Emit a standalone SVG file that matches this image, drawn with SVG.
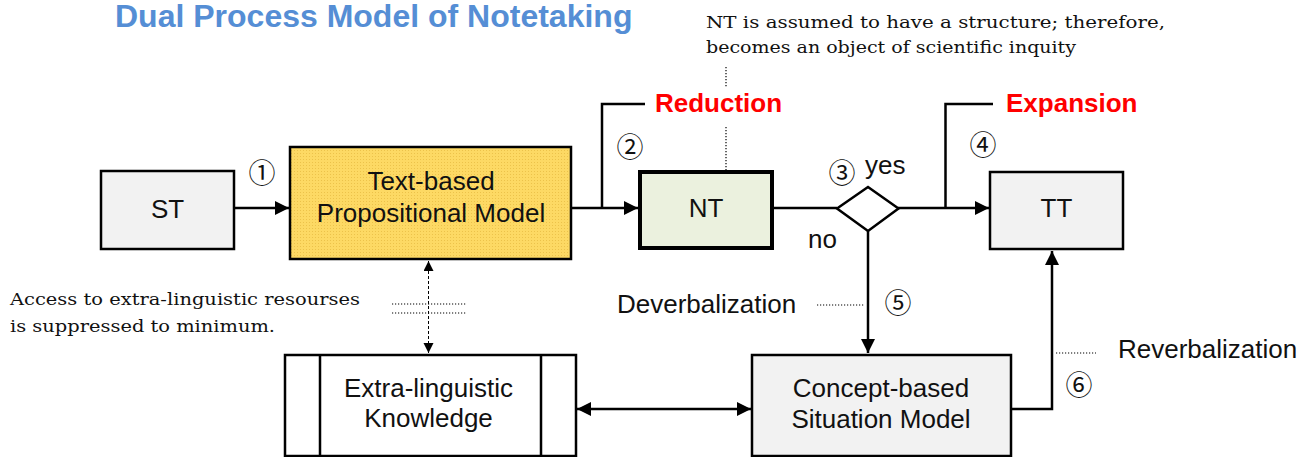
<svg xmlns="http://www.w3.org/2000/svg" width="1308" height="457" viewBox="0 0 1308 457">
<style>
.box{stroke:#000;stroke-width:2.5}
.lbl{font-family:"Liberation Sans",Arial,sans-serif;font-size:26px;fill:#111;text-anchor:middle}
.plain{font-family:"Liberation Sans",Arial,sans-serif;font-size:26px;fill:#111}
.red{font-family:"Liberation Sans",Arial,sans-serif;font-size:26px;font-weight:bold;fill:#ff0000}
.serif{font-family:"DejaVu Serif","Liberation Serif",serif;font-size:17px;fill:#111}
.num{font-family:"Noto Sans CJK JP","DejaVu Sans",sans-serif;font-size:27px;fill:#111;text-anchor:middle}
.conn{fill:none;stroke:#000;stroke-width:2.5}
.dot{fill:none;stroke:#000;stroke-width:1.2;stroke-dasharray:1.2 1.8}
</style>
<defs>
<pattern id="stipple" width="3" height="3" patternUnits="userSpaceOnUse">
<rect width="3" height="3" fill="#fdd964"/>
<rect width="1" height="1" fill="#ecc24a"/>
</pattern>
<marker id="ah" markerUnits="userSpaceOnUse" markerWidth="15" markerHeight="14" refX="14" refY="7" orient="auto-start-reverse">
<path d="M0,0 L14,7 L0,14 z" fill="#000"/>
</marker>
<marker id="ahs" markerUnits="userSpaceOnUse" markerWidth="11" markerHeight="11" refX="10" refY="5" orient="auto-start-reverse">
<path d="M0,0 L10,5 L0,10 z" fill="#000"/>
</marker>
</defs>

<g id="title">
<text x="115" y="27" font-family="Liberation Sans, Arial, sans-serif" font-size="32" font-weight="bold" fill="#558ED5">Dual Process Model of Notetaking</text>
</g>

<g id="note-nt">
<text class="serif" x="706" y="28" textLength="459" lengthAdjust="spacingAndGlyphs">NT is assumed to have a structure; therefore,</text>
<text class="serif" x="706" y="53" textLength="370" lengthAdjust="spacingAndGlyphs">becomes an object of scientific inquity</text>
</g>

<g id="note-access">
<text class="serif" x="10" y="305" textLength="350" lengthAdjust="spacingAndGlyphs">Access to extra-linguistic resourses</text>
<text class="serif" x="10" y="332" textLength="265" lengthAdjust="spacingAndGlyphs">is suppressed to minimum.</text>
</g>

<g id="connectors">
<path class="conn" d="M234,208 H289" marker-end="url(#ah)"/>
<path class="conn" d="M571,208 H638" marker-end="url(#ah)"/>
<path class="conn" d="M602,208 V104 H645"/>
<path class="conn" d="M773,208 H837"/>
<path class="conn" d="M898,208 H989" marker-end="url(#ah)"/>
<path class="conn" d="M945.5,208 V104 H993"/>
<path class="conn" d="M868,231 V353" marker-end="url(#ah)"/>
<path class="conn" d="M1011,409 H1052 V251" marker-end="url(#ah)"/>
<path class="conn" d="M577,409 H751" marker-start="url(#ah)" marker-end="url(#ah)"/>
<path d="M428.5,261 V353" fill="none" stroke="#000" stroke-width="1" stroke-dasharray="3 2" marker-start="url(#ahs)" marker-end="url(#ahs)"/>
<path class="dot" d="M726,67 V88"/>
<path class="dot" d="M726,127 V170"/>
<path class="dot" d="M392,304 H467 M392,313 H467"/>
<path class="dot" d="M817,305 H865"/>
<path class="dot" d="M1056,353 H1096"/>
</g>

<g id="node-st">
<rect class="box" x="101" y="171" width="133" height="78" fill="#f2f2f2"/>
<text class="lbl" x="167.5" y="218">ST</text>
</g>

<g id="node-tpm">
<rect class="box" x="290" y="147" width="281" height="112" fill="url(#stipple)"/>
<text class="lbl" x="431" y="190">Text-based</text>
<text class="lbl" x="431" y="221.5">Propositional Model</text>
</g>

<g id="node-nt">
<rect x="640" y="172" width="132" height="76" fill="#ebf1de" stroke="#000" stroke-width="4"/>
<text class="lbl" x="706" y="217">NT</text>
</g>

<g id="node-decision">
<polygon points="837,208.5 868,187 898.5,208.5 868,231" fill="#fff" stroke="#000" stroke-width="2.5"/>
</g>

<g id="node-tt">
<rect class="box" x="990" y="172" width="133" height="77" fill="#f2f2f2"/>
<text class="lbl" x="1056.5" y="217">TT</text>
</g>

<g id="node-elk">
<rect class="box" x="285" y="355" width="291" height="101" fill="#fff"/>
<path d="M320,355 V456 M541,355 V456" stroke="#000" stroke-width="2.5"/>
<text class="lbl" x="428.5" y="397">Extra-linguistic</text>
<text class="lbl" x="428.5" y="427">Knowledge</text>
</g>

<g id="node-csm">
<rect class="box" x="752" y="355" width="259" height="101" fill="#f2f2f2"/>
<text class="lbl" x="881" y="397">Concept-based</text>
<text class="lbl" x="881" y="428">Situation Model</text>
</g>

<g id="labels">
<text class="red" x="655" y="112">Reduction</text>
<text class="red" x="1006" y="112">Expansion</text>
<text class="plain" x="865" y="174">yes</text>
<text class="plain" x="808" y="248">no</text>
<text class="plain" x="617" y="313">Deverbalization</text>
<text class="plain" x="1118" y="358">Reverbalization</text>
<text class="num" x="262" y="183">①</text>
<text class="num" x="630" y="157">②</text>
<text class="num" x="842" y="183">③</text>
<text class="num" x="983" y="155">④</text>
<text class="num" x="898" y="313">⑤</text>
<text class="num" x="1079" y="395">⑥</text>
</g>
</svg>
